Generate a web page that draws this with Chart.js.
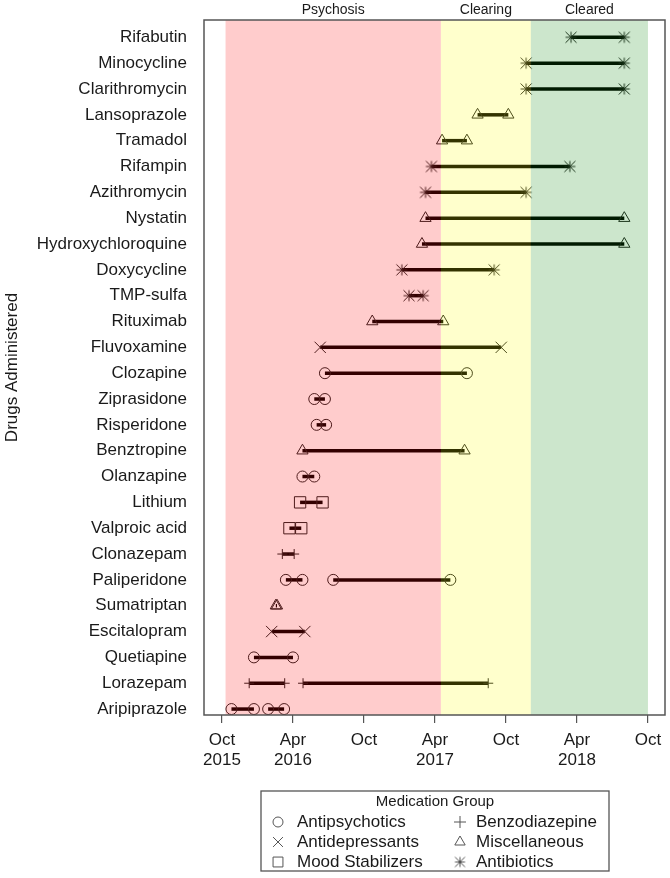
<!DOCTYPE html>
<html>
<head>
<meta charset="utf-8">
<script src="https://cdn.jsdelivr.net/npm/chart.js@4/dist/chart.umd.min.js"></script>
<style>
  html, body { margin: 0; padding: 0; background: #ffffff; }
  #wrap { width: 670px; height: 878px; }
</style>
</head>
<body>
<div id="wrap"><canvas id="c" width="670" height="878"></canvas></div>
<script>
// ---------------- DATA ----------------
// Drugs, top to bottom as shown on the chart
const drugs = ["Rifabutin","Minocycline","Clarithromycin","Lansoprazole","Tramadol","Rifampin",
  "Azithromycin","Nystatin","Hydroxychloroquine","Doxycycline","TMP-sulfa","Rituximab",
  "Fluvoxamine","Clozapine","Ziprasidone","Risperidone","Benztropine","Olanzapine","Lithium",
  "Valproic acid","Clonazepam","Paliperidone","Sumatriptan","Escitalopram","Quetiapine",
  "Lorazepam","Aripiprazole"];

// Medication group of each drug (same order as drugs)
const drugGroups = ["Antibiotics","Antibiotics","Antibiotics","Miscellaneous","Miscellaneous","Antibiotics",
  "Antibiotics","Miscellaneous","Miscellaneous","Antibiotics","Antibiotics","Miscellaneous",
  "Antidepressants","Antipsychotics","Antipsychotics","Antipsychotics","Miscellaneous","Antipsychotics","Mood Stabilizers",
  "Mood Stabilizers","Benzodiazepine","Antipsychotics","Miscellaneous","Antidepressants","Antipsychotics",
  "Benzodiazepine","Antipsychotics"];

// Treatment periods (months since October 2015)
const periodDrug = ["Rifabutin","Minocycline","Clarithromycin","Lansoprazole","Tramadol","Rifampin",
  "Azithromycin","Nystatin","Hydroxychloroquine","Doxycycline","TMP-sulfa","Rituximab",
  "Fluvoxamine","Clozapine","Ziprasidone","Risperidone","Benztropine","Olanzapine","Lithium",
  "Valproic acid","Clonazepam","Paliperidone","Paliperidone","Sumatriptan","Escitalopram","Quetiapine",
  "Lorazepam","Lorazepam","Aripiprazole","Aripiprazole"];
const periodStart = [29.5, 25.7, 25.7, 21.6, 18.6, 17.7,
  17.2, 17.2, 16.9, 15.2, 15.8, 12.7,
  8.3, 8.7, 7.8, 8.0, 6.8, 6.8, 6.6,
  5.7, 5.1, 5.4, 9.4, 4.55, 4.2, 2.7,
  2.3, 6.85, 0.8, 3.9];
const periodEnd = [34.0, 34.0, 34.0, 24.2, 20.7, 29.4,
  25.7, 34.0, 34.0, 23.0, 17.0, 18.7,
  23.6, 20.7, 8.7, 8.8, 20.5, 7.8, 8.5,
  6.7, 6.1, 6.8, 19.3, 4.65, 7.0, 6.0,
  5.3, 22.5, 2.7, 5.25];

// Illness phases (months since October 2015)
const phaseNames = ["Psychosis","Clearing","Cleared"];
const phaseStart = [0.3, 18.5, 26.1];
const phaseEnd = [18.5, 26.1, 36.0];

// x-axis ticks
const tickMonths = [0, 6, 12, 18, 24, 30, 36];
const tickLabels = [["Oct","2015"],["Apr","2016"],["Oct"],["Apr","2017"],["Oct"],["Apr","2018"],["Oct"]];

// Legend order
const legendGroups = ["Antipsychotics","Benzodiazepine","Antidepressants","Miscellaneous","Mood Stabilizers","Antibiotics"];

// ---------------- STYLES ----------------
const FONT = '"Liberation Sans", Arial, Helvetica, sans-serif';
const TEXT = '#1a1a1a';

function makeAsterisk(r, color) {
  const s = Math.ceil(r * 2 + 3);
  const cv = document.createElement('canvas');
  cv.width = s; cv.height = s;
  const g = cv.getContext('2d');
  const c = s / 2;
  g.strokeStyle = color; g.lineWidth = 1;
  g.beginPath();
  g.moveTo(c, c - r); g.lineTo(c, c + r);
  g.moveTo(c - r, c); g.lineTo(c + r, c);
  g.moveTo(c - r, c - r); g.lineTo(c + r, c + r);
  g.moveTo(c + r, c - r); g.lineTo(c - r, c + r);
  g.stroke();
  return cv;
}

const markerStyle = {
  "Antipsychotics":   { style: 'circle',   r: 5.5 },
  "Antidepressants":  { style: 'crossRot', r: 8 },
  "Mood Stabilizers": { style: 'rect',     r: 8 },
  "Benzodiazepine":   { style: 'cross',    r: 5 },
  "Miscellaneous":    { style: 'triangle', r: 6.5 },
  "Antibiotics":      { style: makeAsterisk(5.5, '#222'), r: 6 }
};
const legendMarker = {
  "Antipsychotics":   { style: 'circle',   r: 5 },
  "Antidepressants":  { style: 'crossRot', r: 7 },
  "Mood Stabilizers": { style: 'rect',     r: 7 },
  "Benzodiazepine":   { style: 'cross',    r: 6 },
  "Miscellaneous":    { style: 'triangle', r: 6 },
  "Antibiotics":      { style: makeAsterisk(5, '#555'), r: 6 }
};

// ---------------- DATASETS ----------------
const rowOf = name => drugs.length - drugs.indexOf(name);
const datasets = periodDrug.map((d, i) => {
  const grp = drugGroups[drugs.indexOf(d)];
  const m = markerStyle[grp];
  return {
    label: d,
    data: [{ x: periodStart[i], y: rowOf(d) }, { x: periodEnd[i], y: rowOf(d) }],
    borderColor: '#000000',
    borderWidth: 3.5,
    pointStyle: m.style,
    pointRadius: m.r,
    pointHoverRadius: m.r,
    pointBorderColor: '#222222',
    pointBackgroundColor: 'rgba(0,0,0,0)',
    pointBorderWidth: 1,
    fill: false,
    tension: 0
  };
});

// ---------------- PLUGIN: phases, box, labels, legend ----------------
const phaseColors = ['rgba(255,0,0,0.2)', 'rgba(255,255,0,0.2)', 'rgba(0,128,0,0.2)'];
const decor = {
  id: 'decor',
  afterDatasetsDraw(chart) {
    const { ctx, chartArea: { top, bottom, left, right }, scales: { x } } = chart;
    ctx.save();
    phaseNames.forEach((name, i) => {
      const x0 = x.getPixelForValue(phaseStart[i]);
      const x1 = x.getPixelForValue(phaseEnd[i]);
      ctx.fillStyle = phaseColors[i];
      ctx.fillRect(x0, top, x1 - x0, bottom - top);
      ctx.fillStyle = TEXT;
      ctx.font = '14px ' + FONT;
      ctx.textAlign = 'center';
      ctx.textBaseline = 'middle';
      ctx.fillText(name, (x0 + x1) / 2, top - 10);
    });
    ctx.strokeStyle = '#555555';
    ctx.lineWidth = 1.5;
    ctx.strokeRect(left, top, right - left, bottom - top);

    // legend
    const bx = 261, by = 791, bw = 348, bh = 80;
    ctx.strokeStyle = '#555555';
    ctx.lineWidth = 1.3;
    ctx.strokeRect(bx, by, bw, bh);
    ctx.fillStyle = TEXT;
    ctx.font = '15px ' + FONT;
    ctx.textAlign = 'center';
    ctx.textBaseline = 'middle';
    ctx.fillText('Medication Group', bx + bw / 2, by + 11);
    const colMarker = [278, 460], colText = [297, 476], rowY = [822, 842, 862];
    legendGroups.forEach((g, i) => {
      const col = i % 2, row = Math.floor(i / 2);
      const lm = legendMarker[g];
      ctx.strokeStyle = '#555555';
      ctx.fillStyle = 'rgba(0,0,0,0)';
      ctx.lineWidth = 1;
      Chart.helpers.drawPoint(ctx, { pointStyle: lm.style, radius: lm.r, rotation: 0, borderWidth: 1 }, colMarker[col], rowY[row]);
      ctx.fillStyle = TEXT;
      ctx.font = '17px ' + FONT;
      ctx.textAlign = 'left';
      ctx.textBaseline = 'middle';
      ctx.fillText(g, colText[col], rowY[row]);
    });
    ctx.restore();
  }
};

// ---------------- CHART ----------------
Chart.defaults.font.family = FONT;
Chart.defaults.color = TEXT;

new Chart(document.getElementById('c'), {
  type: 'line',
  data: { datasets },
  options: {
    responsive: false,
    animation: false,
    events: [],
    layout: { autoPadding: false, padding: { top: 20, right: 5, left: 0, bottom: 0 } },
    plugins: { legend: { display: false }, tooltip: { enabled: false } },
    scales: {
      x: {
        type: 'linear',
        min: -1.52,
        max: 37.44,
        afterBuildTicks: s => { s.ticks = tickMonths.map(v => ({ value: v })); },
        afterFit: s => { s.height = 163; s.paddingLeft = 0; s.paddingRight = 0; },
        ticks: {
          autoSkip: false, maxRotation: 0, padding: 7,
          font: { size: 17 }, color: TEXT,
          callback: (v, i) => tickLabels[i]
        },
        grid: { display: true, drawOnChartArea: false, drawTicks: true, tickLength: 8, color: '#555555', lineWidth: 1.2 },
        border: { display: false }
      },
      y: {
        type: 'linear',
        min: 0.77,
        max: 27.67,
        afterBuildTicks: s => { s.ticks = drugs.map((d, i) => ({ value: drugs.length - i })); },
        afterFit: s => { s.width = 204; s.paddingTop = 0; s.paddingBottom = 0; },
        ticks: {
          autoSkip: false, padding: 9,
          font: { size: 17 }, color: TEXT,
          callback: v => drugs[drugs.length - v]
        },
        grid: { display: false },
        border: { display: false },
        title: { display: true, text: 'Drugs Administered', font: { size: 17 }, color: TEXT, padding: { top: 2, bottom: 0 } }
      }
    }
  },
  plugins: [decor]
});
</script>
</body>
</html>
